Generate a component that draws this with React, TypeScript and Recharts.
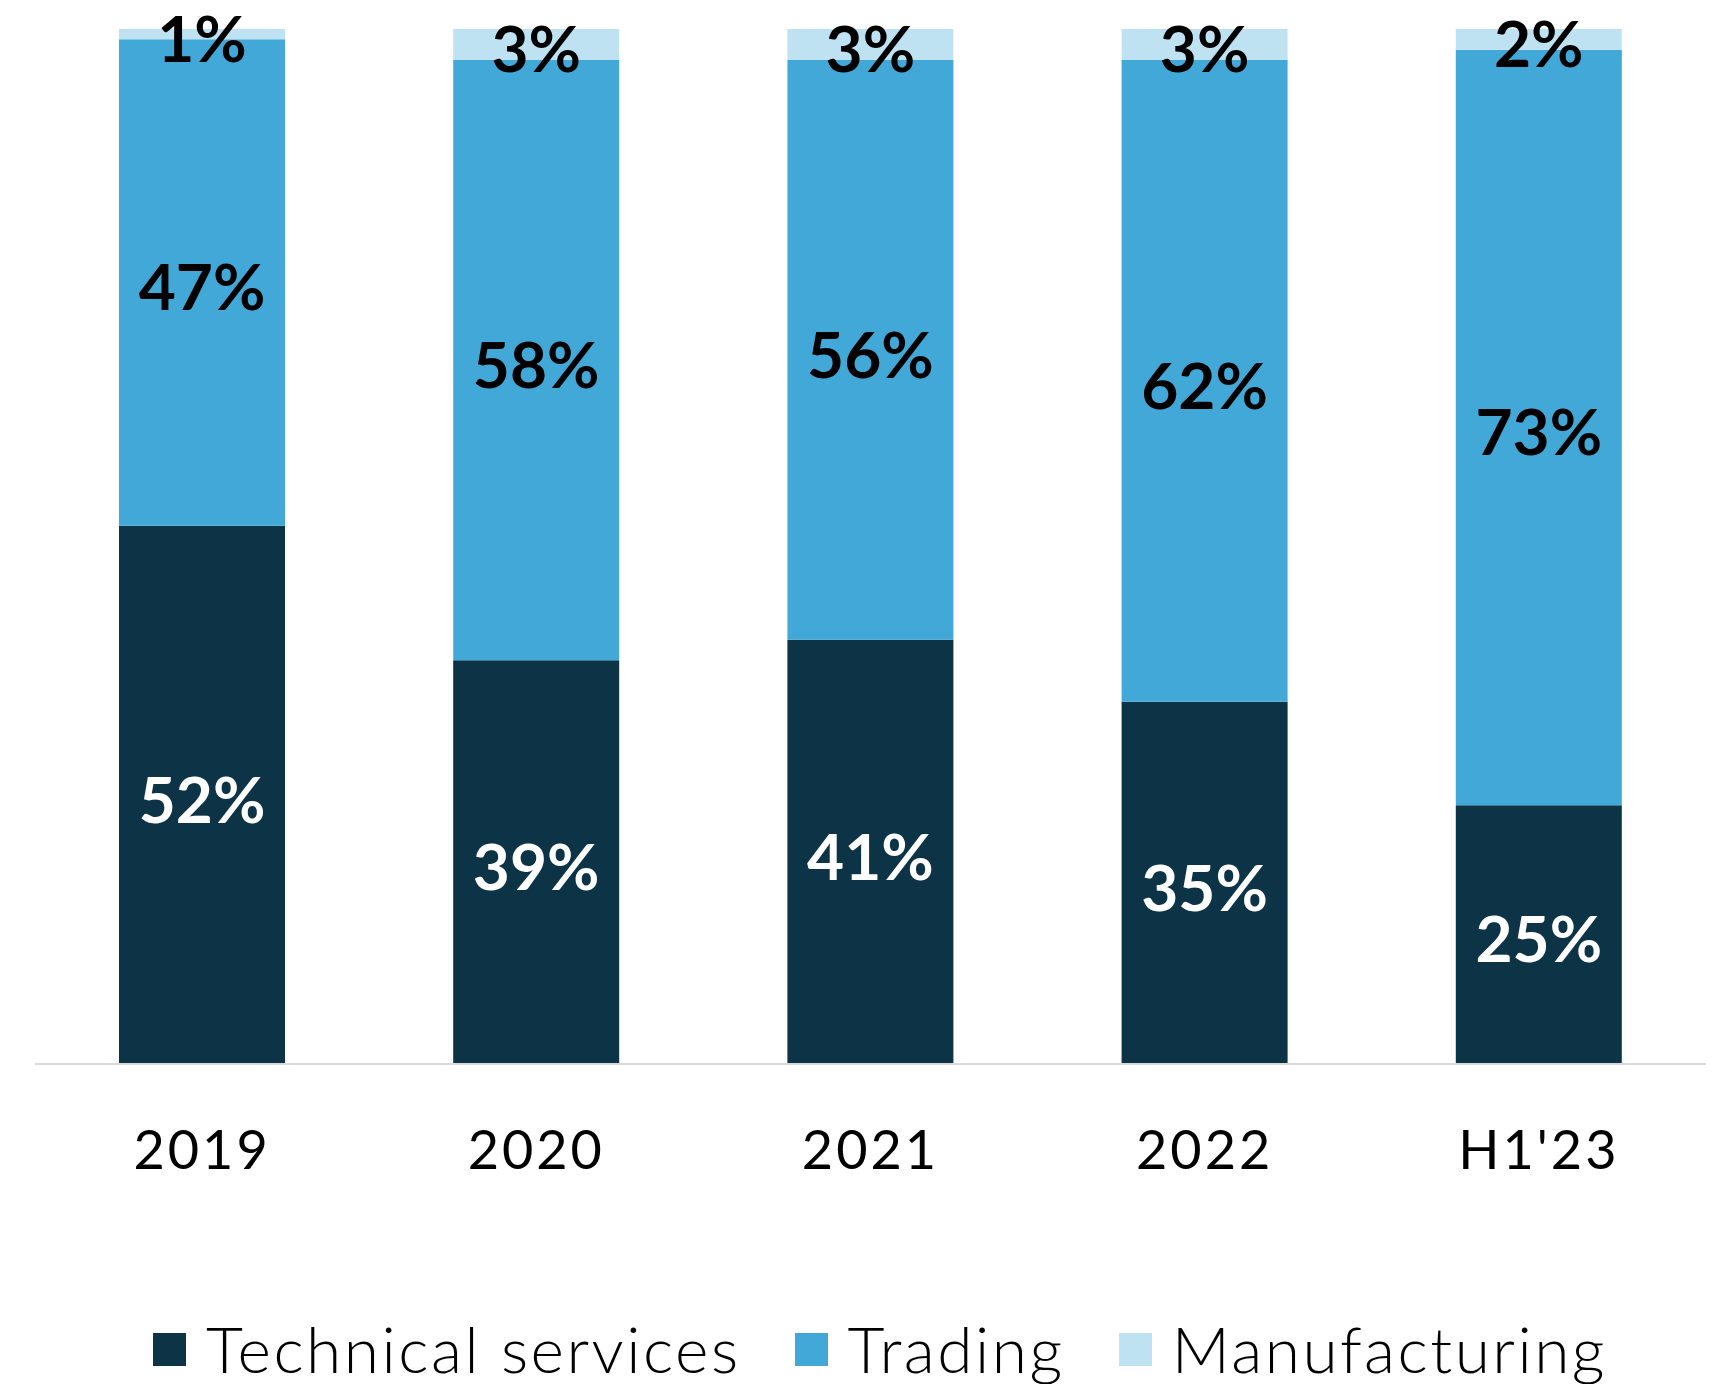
import { BarChart, Bar, XAxis, YAxis, Legend, LabelList } from 'recharts'

const periods = ['2019', '2020', '2021', '2022', "H1'23"]
const technical = [52, 39, 41, 35, 25]
const trading = [47, 58, 56, 62, 73]
const manufacturing = [1, 3, 3, 3, 2]
const seriesOrder = ['Technical services', 'Trading', 'Manufacturing']

const data = periods.map((p, i) => ({
  name: p,
  technical: technical[i],
  trading: trading[i],
  manufacturing: manufacturing[i],
}))

const FONT = 'Lato, "Open Sans", sans-serif'

function LegendContent({ payload }: any) {
  const items = [...(payload || [])].sort(
    (a: any, b: any) => seriesOrder.indexOf(a.value) - seriesOrder.indexOf(b.value)
  )
  return (
    <div style={{ display: 'flex', justifyContent: 'center', alignItems: 'center', fontFamily: FONT, paddingLeft: 38 }}>
      {items.map((item: any, i: number) => (
        <div key={item.value} style={{ display: 'flex', alignItems: 'center', marginLeft: i ? 54 : 0 }}>
          <span style={{ width: 33, height: 33, background: item.color, display: 'inline-block', marginRight: 20 }} />
          <span style={{ fontSize: 64, fontWeight: 300, color: '#000', lineHeight: '70px', letterSpacing: 2.5 }}>{item.value}</span>
        </div>
      ))}
    </div>
  )
}

const fmt = (v: any) => `${v}%`
const labelStyle = { fontSize: 64, fontWeight: 700, fontFamily: FONT }

export default function App() {
  return (
    <div style={{ position: 'absolute', left: 0, top: 0, width: 1722, height: 1384, background: '#fff' }}>
      <BarChart
        width={1722}
        height={1384}
        data={data}
        margin={{ top: 29, right: 16, left: 35, bottom: 0 }}
      >
        <YAxis hide domain={[0, 100]} />
        <XAxis
          dataKey="name"
          height={250}
          axisLine={{ stroke: '#d9d9d9', strokeWidth: 2 }}
          tickLine={false}
          tickSize={0}
          tickMargin={67}
          tick={{ fontSize: 54, fill: '#000', fontFamily: FONT, letterSpacing: 3 }}
        />
        <Legend
          verticalAlign="bottom"
          wrapperStyle={{ bottom: 0, left: 0, width: 1722 }}
          content={<LegendContent />}
        />
        <Bar dataKey="technical" name="Technical services" stackId="a" fill="#0d3347" barSize={166} isAnimationActive={false}>
          <LabelList dataKey="technical" position="center" formatter={fmt} fill="#fff" dy={5} {...labelStyle} />
        </Bar>
        <Bar dataKey="trading" name="Trading" stackId="a" fill="#41a8d7" barSize={166} isAnimationActive={false}>
          <LabelList dataKey="trading" position="center" formatter={fmt} fill="#000" dy={5} {...labelStyle} />
        </Bar>
        <Bar dataKey="manufacturing" name="Manufacturing" stackId="a" fill="#bee2f2" barSize={166} isAnimationActive={false}>
          <LabelList dataKey="manufacturing" position="center" formatter={fmt} fill="#000" dy={5} {...labelStyle} />
        </Bar>
      </BarChart>
    </div>
  )
}
